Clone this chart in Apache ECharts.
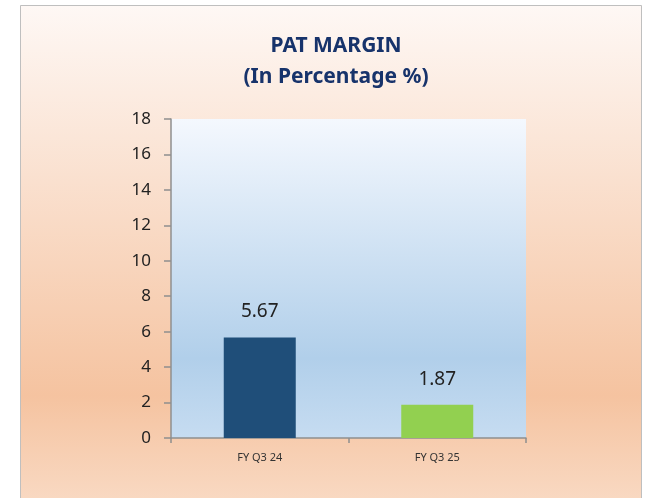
<!DOCTYPE html>
<html>
<head>
<meta charset="utf-8">
<script src="https://cdn.jsdelivr.net/npm/echarts@6/dist/echarts.min.js"></script>
<style>
  html, body { margin: 0; padding: 0; background: #fff; }
  #chart { width: 648px; height: 498px; }
</style>
</head>
<body>
<div id="chart"></div>
<script>
// chart data
const categories = ['FY Q3 24', 'FY Q3 25'];
const patMargin = [5.67, 1.87];
const barColors = ['#1f4e79', '#92d050'];

const chartDom = document.getElementById('chart');
const myChart = echarts.init(chartDom);

const option = {
  animation: false,
  graphic: [
    {
      type: 'rect',
      z: -10,
      silent: true,
      shape: { x: 20.5, y: 5.5, width: 621, height: 500 },
      style: {
        fill: new echarts.graphic.LinearGradient(0, 0, 0, 1, [
          { offset: 0, color: '#fef8f5' },
          { offset: 0.78, color: '#f5c3a0' },
          { offset: 1, color: '#f9dac4' }
        ]),
        stroke: '#bfbfbf',
        lineWidth: 1
      }
    }
  ],
  title: {
    text: 'PAT MARGIN\n(In Percentage %)',
    left: 331,
    textAlign: 'center',
    top: 26,
    textStyle: {
      color: '#17336b',
      fontFamily: 'Noto Sans',
      fontWeight: 'bold',
      fontSize: 21,
      lineHeight: 31
    }
  },
  grid: {
    left: 171,
    top: 119,
    right: 122,
    bottom: 60,
    show: true,
    borderWidth: 0,
    backgroundColor: new echarts.graphic.LinearGradient(0, 0, 0, 1, [
      { offset: 0, color: '#f4f8fe' },
      { offset: 0.75, color: '#b1cfea' },
      { offset: 1, color: '#c6dcf1' }
    ])
  },
  xAxis: {
    type: 'category',
    data: categories,
    axisLine: { lineStyle: { color: '#8f8f8f', width: 1.5 } },
    axisTick: { show: true, length: 5, lineStyle: { color: '#8f8f8f', width: 1.5 } },
    axisLabel: {
      color: '#333',
      fontFamily: 'Noto Sans',
      fontSize: 11,
      margin: 14
    }
  },
  yAxis: {
    type: 'value',
    min: 0,
    max: 18,
    interval: 2,
    axisLine: { show: true, lineStyle: { color: '#8f8f8f', width: 1.5 } },
    axisTick: { show: true, length: 7, lineStyle: { color: '#8f8f8f', width: 1.5 } },
    splitLine: { show: false },
    axisLabel: {
      color: '#222',
      fontFamily: 'Noto Sans',
      fontSize: 17,
      margin: 20
    }
  },
  series: [
    {
      type: 'bar',
      barWidth: 72,
      data: patMargin.map((v, i) => ({ value: v, itemStyle: { color: barColors[i] } })),
      label: {
        show: true,
        position: 'top',
        distance: 16,
        color: '#222',
        fontFamily: 'Noto Sans',
        fontSize: 19
      }
    }
  ]
};

option && myChart.setOption(option);
</script>
</body>
</html>
